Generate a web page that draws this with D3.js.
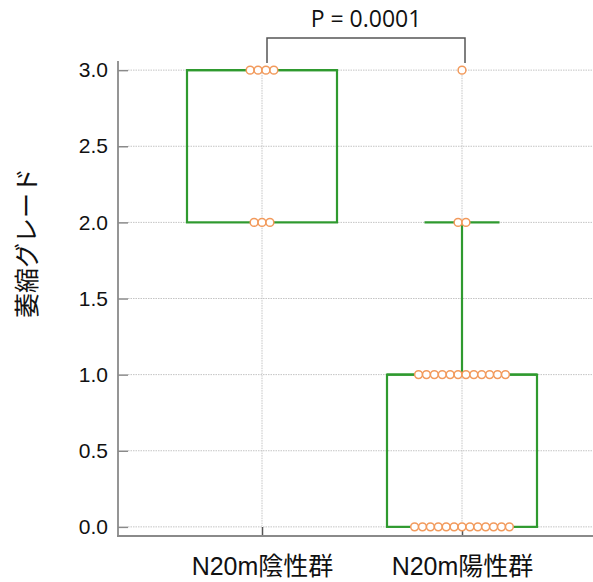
<!DOCTYPE html>
<html>
<head>
<meta charset="utf-8">
<script src="https://cdn.jsdelivr.net/npm/d3@7"></script>
<style>
  body { margin: 0; background: #fff; }
  svg { display: block; }
</style>
</head>
<body>
<div id="vis"></div>
<script>
// data
const GROUPS = ["N20m陰性群", "N20m陽性群"];
const NEG_GRADES = [3, 3, 3, 3, 2, 2, 2];
const POS_GRADES = [3, 2, 2,
  1, 1, 1, 1, 1, 1, 1, 1, 1, 1, 1, 1,
  0, 0, 0, 0, 0, 0, 0, 0, 0, 0, 0, 0, 0];
const Y_TICKS = [0, 0.5, 1.0, 1.5, 2.0, 2.5, 3.0];
const P_TEXT = "P = 0.0001";
const Y_TITLE = "萎縮グレード";

//frame
const FRAME_WIDTH = 593;
const FRAME_HEIGHT = 582;
const PLOT = {left: 118, right: 593, top: 61, bottom: 536};

const GREEN = "#2f9a2f";
const ORANGE = "#f29a5c";
const AXIS_COLOR = "#8a8a8a";
const GRID_COLOR = "#c4c4c4";

const svg = d3.select("#vis")
  .append("svg")
    .attr("width", FRAME_WIDTH)
    .attr("height", FRAME_HEIGHT);

// scales
const Y_SCALE = d3.scaleLinear()
  .domain([-0.06, 3.06])
  .range([PLOT.bottom, PLOT.top]);

const X_SCALE = d3.scalePoint()
  .domain(GROUPS)
  .range([262, 462]);

const BOX_W = 150;
const CAP_W = 75;
const DOT_R = 3.9;
const DOT_STEP = 7.9;

// gridlines
svg.append("g")
  .selectAll("line")
  .data(Y_TICKS)
  .enter()
  .append("line")
    .attr("x1", PLOT.left + 10)
    .attr("x2", PLOT.right)
    .attr("y1", d => Y_SCALE(d))
    .attr("y2", d => Y_SCALE(d))
    .attr("stroke", GRID_COLOR)
    .attr("stroke-width", 1)
    .attr("stroke-dasharray", "1.5,1");

svg.append("g")
  .selectAll("line")
  .data(GROUPS)
  .enter()
  .append("line")
    .attr("x1", d => X_SCALE(d))
    .attr("x2", d => X_SCALE(d))
    .attr("y1", Y_SCALE(3))
    .attr("y2", PLOT.bottom - 10)
    .attr("stroke", GRID_COLOR)
    .attr("stroke-width", 1)
    .attr("stroke-dasharray", "1.5,1");

// axes
const yAxis = svg.append("g")
  .attr("transform", "translate(" + PLOT.left + ",0)")
  .call(d3.axisLeft(Y_SCALE).tickValues(Y_TICKS)
    .tickFormat(d3.format(".1f"))
    .tickSizeInner(-10).tickSizeOuter(0).tickPadding(10));
yAxis.select(".domain").remove();
yAxis.selectAll(".tick line").attr("stroke", AXIS_COLOR).attr("stroke-width", 1.5);
yAxis.selectAll("text")
  .attr("font-family", "Liberation Sans, Arial, sans-serif")
  .attr("font-size", "21px")
  .attr("fill", "#111");

const xAxis = svg.append("g")
  .attr("transform", "translate(0," + PLOT.bottom + ")")
  .call(d3.axisBottom(X_SCALE)
    .tickSizeInner(-9).tickSizeOuter(0).tickPadding(21));
xAxis.select(".domain").remove();
xAxis.selectAll(".tick line").attr("stroke", "#555").attr("stroke-width", 1.5);
xAxis.selectAll("text")
  .attr("font-family", "Liberation Sans, 'Noto Sans CJK JP', sans-serif")
  .attr("font-size", "25px")
  .attr("fill", "#111");

svg.append("line")
  .attr("x1", PLOT.left).attr("x2", PLOT.left)
  .attr("y1", PLOT.top).attr("y2", PLOT.bottom)
  .attr("stroke", AXIS_COLOR).attr("stroke-width", 1.8);
svg.append("line")
  .attr("x1", PLOT.left - 1).attr("x2", PLOT.right)
  .attr("y1", PLOT.bottom).attr("y2", PLOT.bottom)
  .attr("stroke", AXIS_COLOR).attr("stroke-width", 1.8);

// box stats
function boxStats(values) {
  const s = values.slice().sort(d3.ascending);
  const q1 = d3.quantile(s, 0.25);
  const med = d3.quantile(s, 0.5);
  const q3 = d3.quantile(s, 0.75);
  const iqr = q3 - q1;
  const lo = d3.min(s.filter(v => v >= q1 - 1.5 * iqr));
  const hi = d3.max(s.filter(v => v <= q3 + 1.5 * iqr));
  return {q1: q1, med: med, q3: q3, lo: lo, hi: hi};
}

const SERIES = [
  {group: GROUPS[0], values: NEG_GRADES},
  {group: GROUPS[1], values: POS_GRADES}
];

SERIES.forEach(sr => {
  const st = boxStats(sr.values);
  const cx = X_SCALE(sr.group);
  const g = svg.append("g");

  // whiskers
  if (st.hi > st.q3) {
    g.append("line")
      .attr("x1", cx).attr("x2", cx)
      .attr("y1", Y_SCALE(st.q3)).attr("y2", Y_SCALE(st.hi))
      .attr("stroke", GREEN).attr("stroke-width", 2.2);
    g.append("line")
      .attr("x1", cx - CAP_W / 2).attr("x2", cx + CAP_W / 2)
      .attr("y1", Y_SCALE(st.hi)).attr("y2", Y_SCALE(st.hi))
      .attr("stroke", GREEN).attr("stroke-width", 2.2);
  }
  if (st.lo < st.q1) {
    g.append("line")
      .attr("x1", cx).attr("x2", cx)
      .attr("y1", Y_SCALE(st.q1)).attr("y2", Y_SCALE(st.lo))
      .attr("stroke", GREEN).attr("stroke-width", 2.2);
    g.append("line")
      .attr("x1", cx - CAP_W / 2).attr("x2", cx + CAP_W / 2)
      .attr("y1", Y_SCALE(st.lo)).attr("y2", Y_SCALE(st.lo))
      .attr("stroke", GREEN).attr("stroke-width", 2.2);
  }

  // box
  g.append("rect")
    .attr("x", cx - BOX_W / 2)
    .attr("y", Y_SCALE(st.q3))
    .attr("width", BOX_W)
    .attr("height", Y_SCALE(st.q1) - Y_SCALE(st.q3))
    .attr("fill", "none")
    .attr("stroke", GREEN)
    .attr("stroke-width", 2.2);
  g.append("line")
    .attr("x1", cx - BOX_W / 2).attr("x2", cx + BOX_W / 2)
    .attr("y1", Y_SCALE(st.med)).attr("y2", Y_SCALE(st.med))
    .attr("stroke", GREEN).attr("stroke-width", 2.2);

  // dots, spread side by side at each grade
  const byVal = d3.group(sr.values, v => v);
  const dots = [];
  byVal.forEach((arr, v) => {
    arr.forEach((d, i) => {
      dots.push({v: v, off: (i - (arr.length - 1) / 2) * DOT_STEP});
    });
  });
  g.selectAll("circle")
    .data(dots)
    .enter()
    .append("circle")
      .attr("cx", d => cx + d.off)
      .attr("cy", d => Y_SCALE(d.v))
      .attr("r", DOT_R)
      .attr("fill", "#fff")
      .attr("stroke", ORANGE)
      .attr("stroke-width", 1.5);
});

// significance bracket
const bx1 = X_SCALE(GROUPS[0]) + 5;
const bx2 = X_SCALE(GROUPS[1]) + 3;
const by = 38;
svg.append("path")
  .attr("d", "M" + bx1 + "," + 63 + "V" + by + "H" + bx2 + "V" + 63)
  .attr("fill", "none")
  .attr("stroke", "#555")
  .attr("stroke-width", 1.5);
svg.append("text")
  .attr("x", (bx1 + bx2) / 2)
  .attr("y", 27)
  .attr("text-anchor", "middle")
  .attr("font-family", "'Open Sans', sans-serif")
  .attr("font-size", "23px")
  .attr("fill", "#111")
  .text(P_TEXT);

// y title
svg.append("text")
  .attr("transform", "translate(36,243) rotate(-90)")
  .attr("text-anchor", "middle")
  .attr("font-family", "'Noto Sans CJK JP', sans-serif")
  .attr("font-size", "25px")
  .attr("fill", "#111")
  .text(Y_TITLE);
</script>
</body>
</html>
